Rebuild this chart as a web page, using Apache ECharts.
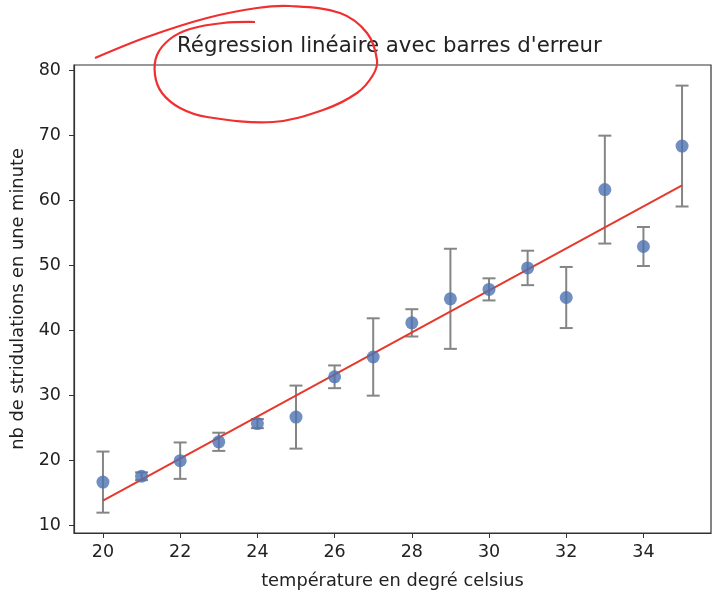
<!DOCTYPE html>
<html>
<head>
    <meta charset="utf-8">
    <title>Régression linéaire</title>
    <script src="https://cdn.jsdelivr.net/npm/echarts@6/dist/echarts.min.js"></script>
</head>
<body style="margin:0;background:#fff;">
<div id="main" style="width: 720px;height:595px;"></div>
<script type="text/javascript">
    // données
    var temperatures = [20, 21, 22, 23, 24, 25, 26, 27, 28, 29, 30, 31, 32, 33, 34, 35];
    var stridulations = [16.6, 17.5, 19.9, 22.8, 25.6, 26.6, 32.8, 35.85, 41.1, 44.8, 46.25, 49.55, 45.0, 61.6, 52.85, 68.3];
    var erreurs = [4.7, 0.6, 2.8, 1.4, 0.7, 4.85, 1.75, 5.95, 2.1, 7.7, 1.7, 2.65, 4.7, 8.3, 3.0, 9.3];
    // droite de régression (extrémités)
    var regX = [20, 35];
    var regY = [13.75, 62.25];
    var xTicks = [20, 22, 24, 26, 28, 30, 32, 34];
    var yTicks = [10, 20, 30, 40, 50, 60, 70, 80];

    var chartDom = document.getElementById('main');
    var myChart = echarts.init(chartDom);
    var police = 'DejaVu Sans';

    var errData = temperatures.map(function (t, i) {
        return [t, stridulations[i] - erreurs[i], stridulations[i] + erreurs[i]];
    });
    var pts = temperatures.map(function (t, i) { return [t, stridulations[i]]; });
    var reg = regX.map(function (x, i) { return [x, regY[i]]; });

    var option = {
        animation: false,
        textStyle: { fontFamily: police },
        title: {
            text: "Régression linéaire avec barres d'erreur",
            left: 177,
            top: 36,
            padding: 0,
            textStyle: { fontFamily: police, fontSize: 21.3, fontWeight: 'normal', color: '#222' }
        },
        grid: {
            left: 74, right: 9, top: 65, bottom: 62,
            show: true, borderColor: '#333', borderWidth: 1.2, backgroundColor: '#fff'
        },
        xAxis: {
            type: 'value',
            min: 19.25, max: 35.75,
            name: 'température en degré celsius',
            nameLocation: 'middle',
            nameGap: 39,
            nameTextStyle: { fontSize: 17.8, color: '#222' },
            splitLine: { show: false },
            axisLine: { show: true, onZero: false, lineStyle: { color: '#333', width: 1.2 } },
            axisTick: { show: true, length: 5, customValues: xTicks, lineStyle: { color: '#333' } },
            axisLabel: { customValues: xTicks, fontSize: 17.5, color: '#222', margin: 10 }
        },
        yAxis: {
            type: 'value',
            min: 8.77, max: 80.77,
            name: 'nb de stridulations en une minute',
            nameLocation: 'middle',
            nameGap: 41,
            nameTextStyle: { fontSize: 17.8, color: '#222' },
            splitLine: { show: false },
            axisLine: { show: true, lineStyle: { color: '#333', width: 1.2 } },
            axisTick: { show: true, length: 5, customValues: yTicks, lineStyle: { color: '#333' } },
            axisLabel: { customValues: yTicks, fontSize: 17.5, color: '#222', margin: 13 }
        },
        series: [
            {
                type: 'custom',
                z: 1,
                data: errData,
                renderItem: function (params, api) {
                    var x = api.value(0);
                    var lo = api.coord([x, api.value(1)]);
                    var hi = api.coord([x, api.value(2)]);
                    var cap = 6.5;
                    var style = { stroke: '#858585', lineWidth: 2, fill: null };
                    return {
                        type: 'group',
                        children: [
                            { type: 'line', shape: { x1: lo[0], y1: lo[1], x2: hi[0], y2: hi[1] }, style: style },
                            { type: 'line', shape: { x1: lo[0] - cap, y1: lo[1], x2: lo[0] + cap, y2: lo[1] }, style: style },
                            { type: 'line', shape: { x1: hi[0] - cap, y1: hi[1], x2: hi[0] + cap, y2: hi[1] }, style: style }
                        ]
                    };
                }
            },
            {
                type: 'line',
                z: 2,
                data: reg,
                symbol: 'none',
                lineStyle: { color: '#e5392d', width: 2 }
            },
            {
                type: 'scatter',
                z: 3,
                data: pts,
                symbolSize: 13,
                itemStyle: { color: '#4c72b0' }
            }
        ],
        graphic: [
            {
                type: 'polyline',
                z: 100,
                shape: {
                    points: [[95, 58], [147, 37], [207, 18], [257, 8], [290, 6], [340, 13], [367, 33], [377, 60],
                        [373, 75], [357, 93], [323, 110], [273, 122], [207, 117], [180, 108], [162, 93],
                        [155, 75], [157, 55], [170, 39], [190, 29], [223, 23], [255, 22]],
                    smooth: 0.35
                },
                style: { stroke: '#f03030', lineWidth: 2.2, fill: null }
            }
        ]
    };

    if (option && typeof option === 'object') {
        myChart.setOption(option);
    }
</script>
</body>
</html>
